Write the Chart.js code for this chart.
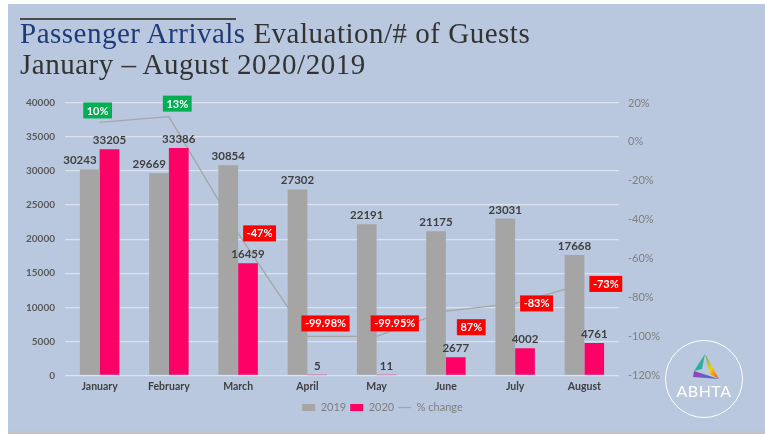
<!DOCTYPE html>
<html>
<head>
<meta charset="utf-8">
<script src="https://cdn.jsdelivr.net/npm/chart.js@4.4.0/dist/chart.umd.min.js"></script>
<style>
  html, body { margin: 0; padding: 0; background: #ffffff; }
  body { width: 765px; height: 434px; position: relative; overflow: hidden; }
  #slide { position: absolute; left: 8px; top: 4px; width: 757px; height: 427px; background: #b9c8df; }
  #floor { position: absolute; left: 8px; top: 431px; width: 757px; height: 3px; background: #c4c4c4; }
  #chart-wrap { position: absolute; left: 0; top: 0; width: 765px; height: 434px; }
  #title { position: absolute; left: 20px; top: 18px; font-family: 'Liberation Serif', serif; font-size: 29px; line-height: 31px; letter-spacing: 0.5px; color: #333333; white-space: nowrap; }
  #title .hl { color: #1f3a78; }
  #rule { position: absolute; left: 20px; top: 18px; width: 216px; height: 2px; background: #4a4a4a; }
  #logo { position: absolute; left: 665px; top: 340px; width: 78px; height: 78px; border: 1.5px solid #ffffff; border-radius: 50%; box-sizing: border-box; }
  #logo span { position: absolute; left: 0; right: 0; top: 40px; text-align: center; font-family: Lato, sans-serif; font-size: 16px; color: #ffffff; letter-spacing: 0.5px; }
  #logo svg { position: absolute; left: 24px; top: 12px; }
</style>
</head>
<body>
<div id="slide"></div>
<div id="floor"></div>
<div id="chart-wrap"><canvas id="arrivals-chart" width="765" height="434"></canvas></div>
<div id="rule"></div>
<div id="title"><span class="hl">Passenger Arrivals</span> Evaluation/# of Guests<br>January – August 2020/2019</div>
<div id="logo">
  <svg width="30" height="28" viewBox="0 0 30 28">
    <defs>
      <linearGradient id="g1" x1="0" y1="0" x2="1" y2="1">
        <stop offset="0" stop-color="#3cb44b"/><stop offset="0.5" stop-color="#f5d000"/><stop offset="1" stop-color="#f0501e"/>
      </linearGradient>
      <linearGradient id="g2" x1="0" y1="0" x2="1" y2="0">
        <stop offset="0" stop-color="#9b3fb5"/><stop offset="1" stop-color="#2f7fd0"/>
      </linearGradient>
    </defs>
    <polygon points="15,1 29,26 20,21" fill="url(#g1)"/>
    <polygon points="15,1 4,18 12,16" fill="#2bb0a0"/>
    <polygon points="4,18 29,26 3,24" fill="url(#g2)"/>
  </svg>
  <span>ABHTA</span>
</div>
<script>
// Passenger arrivals 2019 vs 2020
const months = ['January', 'February', 'March', 'April', 'May', 'June', 'July', 'August'];
const arrivals2019 = [30243, 29669, 30854, 27302, 22191, 21175, 23031, 17668];
const arrivals2020 = [33205, 33386, 16459, 5, 11, 2677, 4002, 4761];
const pctChange = [10, 13, -47, -99.98, -99.95, -87, -83, -73];
const changeLabels = ['10%', '13%', '-47%', '-99.98%', '-99.95%', '87%', '-83%', '-73%'];
const changeLabelSpots = ['above', 'aboveRight', 'right', 'aboveRight', 'aboveRight', 'belowRight', 'right', 'right'];

const countTicks = [0, 5000, 10000, 15000, 20000, 25000, 30000, 35000, 40000];
const pctTicks = [-120, -100, -80, -60, -40, -20, 0, 20];

const GRAY = '#a5a5a5';
const PINK = '#ff0066';

// draws value labels over bars and boxed % labels on the line
const valueLabels = {
    id: 'valueLabels',
    afterDatasetsDraw(chart) {
        const ctx = chart.ctx;
        ctx.save();
        ctx.font = 'bold 11.5px Lato';
        ctx.fillStyle = '#404040';
        ctx.textAlign = 'center';
        ctx.textBaseline = 'bottom';
        const bars19 = chart.getDatasetMeta(0).data;
        const bars20 = chart.getDatasetMeta(1).data;
        bars19.forEach((bar, i) => {
            const text = String(arrivals2019[i]);
            let x = bar.x;
            // nudge left when the taller 2020 bar would cover the label
            if (bars20[i].y < bar.y - 3) {
                const w = ctx.measureText(text).width;
                x = bar.x + bar.width / 2 - w / 2 - 3;
            }
            ctx.fillText(text, x, bar.y - 3);
        });
        bars20.forEach((bar, i) => {
            ctx.fillText(String(arrivals2020[i]), bar.x, bar.y - 3);
        });

        ctx.font = 'bold 11px Lato';
        ctx.textBaseline = 'middle';
        chart.getDatasetMeta(2).data.forEach((pt, i) => {
            const text = changeLabels[i];
            const w = ctx.measureText(text).width + 7;
            const h = 16;
            let left, top;
            switch (changeLabelSpots[i]) {
                case 'above': left = pt.x - w / 2 - 2; top = pt.y - 4 - h; break;
                case 'aboveRight': left = pt.x - 6; top = pt.y - 5 - h; break;
                case 'right': left = pt.x + 5; top = pt.y - h / 2; break;
                case 'belowRight': left = pt.x + 11; top = pt.y + 8; break;
            }
            ctx.fillStyle = pctChange[i] > 0 ? '#00b050' : '#ff0000';
            ctx.fillRect(left, top, w, h);
            ctx.fillStyle = '#ffffff';
            ctx.textAlign = 'center';
            ctx.fillText(text, left + w / 2, top + h / 2 + 0.5);
        });
        ctx.restore();
    }
};

const ctx = document.getElementById('arrivals-chart').getContext('2d');

new Chart(ctx, {
    type: 'bar',
    data: {
        labels: months,
        datasets: [
            {
                label: '2019',
                data: arrivals2019,
                backgroundColor: GRAY,
                pointStyle: 'rect',
                order: 1,
                yAxisID: 'y'
            },
            {
                label: '2020',
                data: arrivals2020,
                backgroundColor: PINK,
                pointStyle: 'rect',
                order: 2,
                yAxisID: 'y'
            },
            {
                type: 'line',
                label: '% change',
                data: pctChange,
                borderColor: GRAY,
                backgroundColor: GRAY,
                borderWidth: 1.3,
                pointRadius: 0,
                pointStyle: 'line',
                tension: 0,
                order: 3,
                yAxisID: 'y1'
            }
        ]
    },
    options: {
        responsive: false,
        animation: false,
        datasets: {
            bar: { categoryPercentage: 0.57, barPercentage: 1.0 }
        },
        layout: { padding: { top: 103, bottom: 11, left: 0, right: 0 } },
        scales: {
            x: {
                grid: { display: false, drawTicks: false },
                border: { display: false },
                ticks: { color: '#404040', font: { family: 'Lato', size: 10.5, weight: 'bold' }, padding: 5 }
            },
            y: {
                position: 'left',
                min: 0,
                max: 40000,
                afterBuildTicks: s => { s.ticks = countTicks.map(v => ({ value: v })); },
                afterFit: s => { s.width = 65; },
                grid: { color: '#dde3ee', lineWidth: 1.3, drawTicks: false },
                border: { display: false },
                ticks: { color: '#595959', font: { family: 'Lato', size: 10, weight: 'bold' }, padding: 10, callback: v => String(v) }
            },
            y1: {
                position: 'right',
                min: -120,
                max: 20,
                afterBuildTicks: s => { s.ticks = pctTicks.map(v => ({ value: v })); },
                afterFit: s => { s.width = 146; },
                grid: { display: false, drawTicks: false },
                border: { display: false },
                ticks: { color: '#7f7f7f', font: { family: 'Lato', size: 11 }, padding: 9, callback: v => v + '%' }
            }
        },
        plugins: {
            legend: {
                position: 'bottom',
                labels: {
                    usePointStyle: true,
                    pointStyleWidth: 13,
                    boxHeight: 7,
                    padding: 4,
                    color: '#7f7f7f',
                    font: { family: 'Lato', size: 11 }
                }
            },
            tooltip: { enabled: false }
        }
    },
    plugins: [valueLabels]
});
</script>
</body>
</html>
